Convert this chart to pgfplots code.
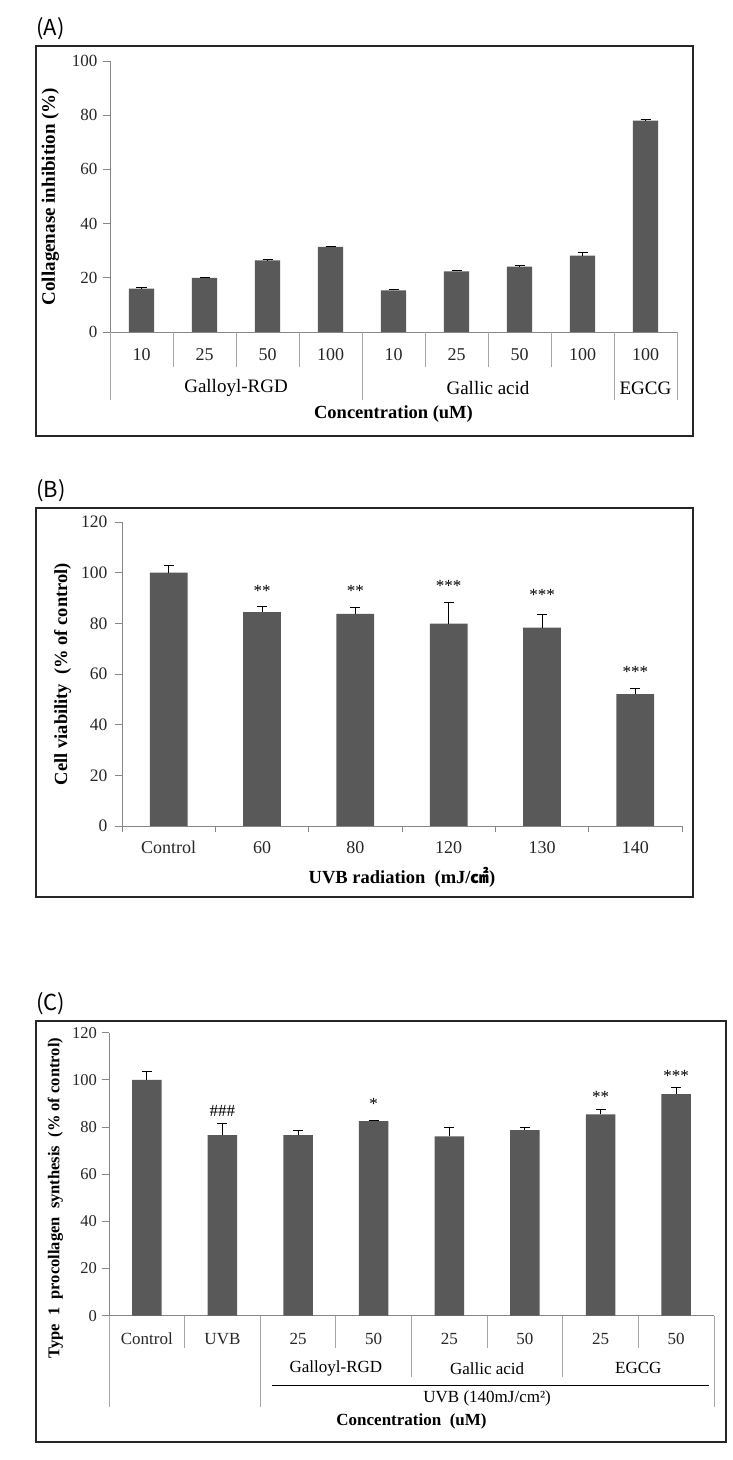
\documentclass[border=0pt]{standalone}
\usepackage{pgfplots}
\pgfplotsset{compat=1.18}
\usepackage{fontspec}
\setmainfont{Liberation Serif}
\newfontfamily\cjk{Noto Sans CJK KR}
\definecolor{barc}{HTML}{595959}
\definecolor{axc}{HTML}{868686}
\definecolor{sepc}{HTML}{A6A6A6}
\newcommand{\fs}[1]{\fontsize{#1bp}{#1bp}\selectfont}
\pgfplotsset{
  mybar/.style={
    scale only axis, axis x line*=bottom, axis y line*=left,
    axis line style={axc, line width=0.8bp},
    enlargelimits=false, ymin=0,
    tick align=outside, major tick length=7bp,
    xtick=data, xtick style={draw=none}, ytick style={axc, line width=0.8bp},
    /pgf/number format/assume math mode=true,
    clip=false, ybar,
    tick label style={text=black!85},
  },
  mydata/.style={fill=barc, draw=none,
    error bars/.cd, y dir=plus, y explicit,
    error bar style={draw=black, line width=0.9bp},
    error mark options={draw=black, rotate=90, mark size=5bp, line width=0.9bp}},
}
\begin{document}
\begin{tikzpicture}
\path[use as bounding box] (0bp,0bp) rectangle (733bp,1460bp);
% ---------------- Panel A ----------------
\draw[line width=1.3bp, black!85] (36bp,1024bp) rectangle (693bp,1414bp);
\node[anchor=west, font=\cjk\fs{22}, inner sep=0pt] at (36bp,1431bp) {(A)};
\begin{axis}[mybar, at={(110bp,1128bp)}, anchor=south west,
  width=567bp, height=271bp,
  xmin=-0.5, xmax=8.5, ymax=100, ytick={0,20,...,100},
  bar width=0.4,
  xticklabels={10,25,50,100,10,25,50,100,100},
  xticklabel style={font=\fs{18}, anchor=base, yshift=-22bp},
  yticklabel style={font=\fs{17}, xshift=-2bp},
  ylabel={Collagenase inhibition (\%)},
  ylabel style={font=\fs{19}\bfseries, at={(axis description cs:-0.105,0.5)}, anchor=center},
  xlabel={Concentration (uM)},
  xlabel style={font=\fs{18.5}\bfseries, at={(axis description cs:0.5,0)}, anchor=center, yshift=-82bp},
]
\addplot[mydata] table[x=x, y=y, y error=e] {
x y e
0 16.0 0.6
1 20.0 0.3
2 26.4 0.2
3 31.4 0.3
4 15.4 0.3
5 22.4 0.3
6 24.1 0.4
7 28.2 1.0
8 78.0 0.3
};
\pgfplotsinvokeforeach{0.5,1.5,2.5,4.5,5.5,6.5}{\draw[sepc, line width=0.8bp] (axis cs:#1,0) -- ++(0bp,-35bp);}
\pgfplotsinvokeforeach{-0.5,3.5,7.5,8.5}{\draw[sepc, line width=0.8bp] (axis cs:#1,0) -- ++(0bp,-68bp);}
\node[font=\fs{19}, yshift=-56bp] at (axis cs:1.5,0) {Galloyl-RGD};
\node[font=\fs{19}, yshift=-56bp] at (axis cs:5.5,0) {Gallic acid};
\node[font=\fs{19}, yshift=-56bp] at (axis cs:8,0) {EGCG};
\end{axis}
% ---------------- Panel B ----------------
\draw[line width=1.3bp, black!85] (36bp,563bp) rectangle (693bp,952bp);
\node[anchor=west, font=\cjk\fs{22}, inner sep=0pt] at (36bp,969bp) {(B)};
\begin{axis}[mybar, at={(122bp,634bp)}, anchor=south west,
  width=560bp, height=304bp,
  xmin=-0.5, xmax=5.5, ymax=120, ytick={0,20,...,120},
  bar width=0.405,
  xticklabels={Control,60,80,120,130,140},
  xticklabel style={font=\fs{18}, anchor=base, yshift=-21bp},
  yticklabel style={font=\fs{17.5}, xshift=-4bp},
  ylabel={Cell viability \ (\% of control)},
  ylabel style={font=\fs{18.5}\bfseries, at={(axis description cs:-0.106,0.5)}, anchor=center},
  xlabel={UVB radiation \ (mJ/{\cjk ㎠})},
  xlabel style={font=\fs{18.5}\bfseries, at={(axis description cs:0.5,0)}, anchor=center, yshift=-51bp},
]
\addplot[mydata] table[x=x, y=y, y error=e] {
x y e
0 100.0 2.8
1 84.4 2.2
2 83.7 2.5
3 79.9 8.3
4 78.3 5.3
5 52.1 2.2
};
\pgfplotsinvokeforeach{-0.5,0.5,1.5,2.5,3.5,4.5,5.5}{\draw[axc, line width=0.8bp] (axis cs:#1,0) -- ++(0bp,-6bp);}
\node[font=\fs{17}] at (axis cs:1,92.6) {**};
\node[font=\fs{17}] at (axis cs:2,92.6) {**};
\node[font=\fs{17}] at (axis cs:3,94.6) {***};
\node[font=\fs{17}] at (axis cs:4,91.1) {***};
\node[font=\fs{17}] at (axis cs:5,61.0) {***};
\end{axis}
% ---------------- Panel C ----------------
\draw[line width=1.3bp, black!85] (36bp,18bp) rectangle (726bp,439bp);
\node[anchor=west, font=\cjk\fs{22}, inner sep=0pt] at (36bp,456bp) {(C)};
\begin{axis}[mybar, at={(109bp,144.3bp)}, anchor=south west,
  width=605bp, height=283bp,
  xmin=-0.5, xmax=7.5, ymax=120, ytick={0,20,...,120},
  bar width=0.39,
  xticklabels={Control,UVB,25,50,25,50,25,50},
  xticklabel style={font=\fs{17}, anchor=base, yshift=-21.4bp},
  yticklabel style={font=\fs{16.5}, xshift=-1.5bp},
  ylabel={Type \ 1 \ procollagen \ synthesis \ (\% of control)},
  ylabel style={font=\fs{16.5}\bfseries, at={(axis description cs:-0.0888,0.415)}, anchor=center},
  xlabel={Concentration \ (uM)},
  xlabel style={font=\fs{17}\bfseries, at={(axis description cs:0.5,0)}, anchor=center, yshift=-106bp},
]
\addplot[mydata] table[x=x, y=y, y error=e] {
x y e
0 100.0 3.7
1 76.6 4.8
2 76.6 2.0
3 82.5 0.4
4 76.0 3.9
5 78.7 1.2
6 85.4 2.1
7 94.0 2.7
};
\pgfplotsinvokeforeach{0.5,2.5,4.5,6.5}{\draw[sepc, line width=0.8bp] (axis cs:#1,0) -- ++(0bp,-32bp);}
\pgfplotsinvokeforeach{3.5,5.5}{\draw[sepc, line width=0.8bp] (axis cs:#1,0) -- ++(0bp,-61bp);}
\pgfplotsinvokeforeach{-0.5,1.5,7.5}{\draw[sepc, line width=0.8bp] (axis cs:#1,0) -- ++(0bp,-91bp);}
\node[font=\fs{17}, yshift=-52.6bp] at (axis cs:2.5,0) {Galloyl-RGD};
\node[font=\fs{17}, yshift=-52.6bp] at (axis cs:4.5,0) {Gallic acid};
\node[font=\fs{17}, yshift=-52.6bp] at (axis cs:6.5,0) {EGCG};
\draw[black, line width=1bp] ([yshift=-69.6bp]axis cs:1.656,0) -- ([yshift=-69.6bp]axis cs:7.44,0);
\node[font=\fs{17}, yshift=-82.6bp] at (axis cs:4.5,0) {UVB (140mJ/cm²)};
\node[font=\fs{17}] at (axis cs:1,87.0) {\#\#\#};
\node[font=\fs{17}] at (axis cs:3,89.6) {*};
\node[font=\fs{17}] at (axis cs:6,92.9) {**};
\node[font=\fs{17}] at (axis cs:7,101.6) {***};
\end{axis}
\end{tikzpicture}
\end{document}
